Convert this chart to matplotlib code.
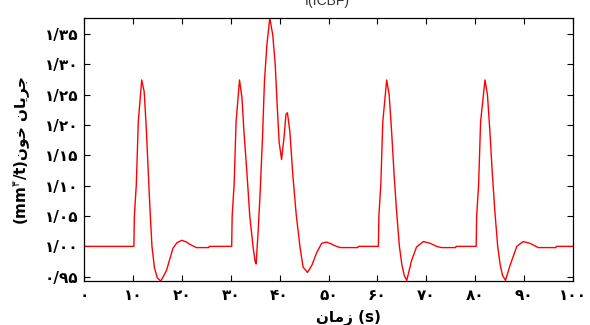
import matplotlib
matplotlib.use("Agg")
import matplotlib.pyplot as plt

# blood flow curve (time in s, flow in mm^3/t)
time_s = [0, 10.2, 10.3, 10.7, 11.1, 11.8, 12.3, 12.7, 13.1, 13.5, 13.9, 14.4, 15.0,
          15.7, 16.2, 16.9, 17.5, 18.2, 19.0, 20.0, 21.0, 21.7, 23.0, 25.5, 25.6,
          30.2, 30.3, 30.7, 31.1, 31.8, 32.3, 32.7, 33.3, 33.9, 34.6, 35.0, 35.2,
          35.6, 36.0, 36.5, 36.9, 37.4, 38.0, 38.6, 39.1, 39.5, 39.9, 40.4, 40.9,
          41.3, 41.6, 42.1, 42.7, 43.4, 44.2, 44.8, 45.7, 46.6, 47.6, 48.6, 49.6,
          50.6, 51.6, 52.5, 56.0, 56.1,
          60.2, 60.3, 60.7, 61.1, 61.9, 62.4, 62.9, 63.4, 63.9, 64.5, 65.0, 65.5,
          66.0, 67.0, 68.0, 69.4, 70.8, 72.1, 73.1, 76.0, 76.1,
          80.2, 80.3, 80.7, 81.1, 82.0, 82.5, 83.0, 83.5, 84.0, 84.6, 85.1, 85.6,
          86.2, 87.1, 88.5, 89.8, 91.2, 92.9, 96.5, 96.6, 100]
flow = [1.000, 1.000, 1.050, 1.102, 1.205, 1.274, 1.255, 1.200, 1.130, 1.060, 1.000, 0.965, 0.948,
        0.943, 0.950, 0.961, 0.978, 0.997, 1.006, 1.010, 1.007, 1.003, 0.998, 0.998, 1.000,
        1.000, 1.050, 1.102, 1.205, 1.274, 1.245, 1.190, 1.123, 1.050, 0.997, 0.975, 0.971,
        1.023, 1.085, 1.179, 1.271, 1.332, 1.376, 1.348, 1.300, 1.233, 1.172, 1.143, 1.179,
        1.217, 1.220, 1.189, 1.118, 1.052, 0.997, 0.966, 0.957, 0.969, 0.990, 1.005, 1.007,
        1.004, 1.000, 0.998, 0.998, 1.000,
        1.000, 1.050, 1.102, 1.205, 1.274, 1.250, 1.190, 1.120, 1.060, 1.000, 0.970, 0.952,
        0.944, 0.977, 0.999, 1.008, 1.005, 1.000, 0.998, 0.998, 1.000,
        1.000, 1.050, 1.102, 1.205, 1.274, 1.250, 1.190, 1.120, 1.060, 1.000, 0.970, 0.952,
        0.944, 0.968, 1.000, 1.008, 1.005, 0.998, 0.998, 1.000, 1.000]

xticks = [0, 10, 20, 30, 40, 50, 60, 70, 80, 90, 100]
xtick_labels = ["۰", "۱۰", "۲۰", "۳۰", "۴۰", "۵۰", "۶۰", "۷۰", "۸۰", "۹۰", "۱۰۰"]
yticks = [0.95, 1.00, 1.05, 1.10, 1.15, 1.20, 1.25, 1.30, 1.35]
ytick_labels = ["۰/۹۵", "۱/۰۰", "۱/۰۵", "۱/۱۰", "۱/۱۵", "۱/۲۰", "۱/۲۵", "۱/۳۰", "۱/۳۵"]

# Persian words in visual order with presentation forms (matplotlib has no shaping)
word_time = "\uFEE5\uFE8E\uFEE3\uFEAF"          # زمان
word_blood = "\uFEE5\uFEEE\uFEA7"               # خون
word_flow = "\uFEE5\uFE8E\uFEF3\uFEAE\uFE9F"    # جریان

fig = plt.figure(figsize=(5.9, 3.25), dpi=100)
ax = fig.add_axes([84 / 590, 1 - 281 / 325, 489 / 590, 263 / 325])

ax.plot(time_s, flow, color="#ff0000", lw=1.0)

ax.set_xlim(0, 100)
ax.set_ylim(0.943, 1.376)
ax.set_xticks(xticks)
ax.set_xticklabels(xtick_labels, fontsize=11, fontweight="bold")
ax.set_yticks(yticks)
ax.set_yticklabels(ytick_labels, fontsize=11, fontweight="bold")
ax.tick_params(direction="in", length=4, width=0.8, top=True, right=True)
ax.tick_params(axis="x", pad=5)
ax.tick_params(axis="y", pad=4)
for s in ax.spines.values():
    s.set_linewidth(0.9)

fig.text(348 / 590, 1 - 318 / 325, word_time + " (s)", ha="center", va="center",
         fontsize=11, fontweight="bold")
fig.text(22 / 590, 1 - 150 / 325, "(mm$^{۳}$/t)" + word_blood + " " + word_flow,
         rotation=90, ha="center", va="center", fontsize=11, fontweight="bold")
# title sits partly above the figure edge, as in the reference
fig.text(327 / 590, 1 - 5 / 325, "f(ICBF)", ha="center", va="baseline",
         fontsize=10, family="Liberation Sans", color="#333333")

fig.savefig("out.png", dpi=100)
